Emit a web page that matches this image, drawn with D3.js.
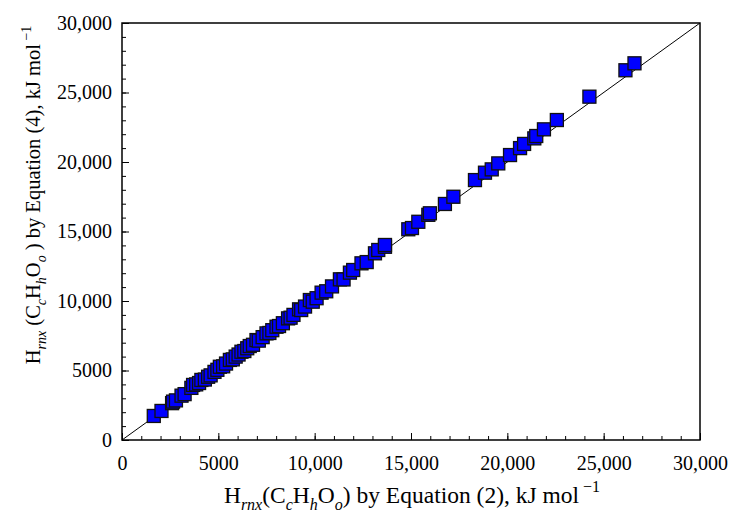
<!DOCTYPE html>
<html><head><meta charset="utf-8">
<script src="https://cdn.jsdelivr.net/npm/d3@7"></script>
<style>body{margin:0;background:#fff}svg{display:block}text{font-family:"Liberation Serif","Times New Roman",serif;fill:#000}</style>
</head><body><svg id="c" width="729" height="516"></svg>
<script>
// Values
const xEq2 = [1650,2050,2600,2650,2800,3090,3250,3600,3690,3850,4000,4120,4300,4470,4600,4800,4950,5080,5250,5400,5600,5750,5900,6050,6200,6350,6500,6630,6800,6980,7100,7300,7500,7650,7800,8020,8150,8350,8620,8750,8900,9190,9300,9500,9750,9900,10100,10360,10600,10900,11310,11500,11830,12000,12430,12700,13130,13300,13650,13650,
  14860,15050,15380,15900,15980,16760,17200,18320,18840,19190,19530,20140,20660,20870,21400,21500,21900,22570,24260,26130,26600];
const yEq4 = [1730,2090,2650,2760,2850,3190,3300,3750,3960,4000,4100,4320,4350,4550,4650,4900,5050,5270,5300,5500,5760,5800,6000,6150,6350,6400,6600,6760,6850,7190,7150,7400,7670,7700,7900,8150,8200,8400,8750,8800,9000,9400,9350,9600,10070,9950,10200,10600,10700,11050,11560,11550,12040,12230,12710,12800,13430,13670,13900,14030,
  15160,15250,15700,16200,16310,16980,17500,18700,19230,19470,19900,20500,21000,21300,21700,21870,22350,23020,24700,26600,27100];
const majorTicks = [0,5000,10000,15000,20000,25000,30000];
const minorTicks = d3.range(0,30001,1000);
const axisDomain = [0,30000];

const svg = d3.select("#c");
const L=122, R=700, T=23, B=440;
const x = d3.scaleLinear().domain(axisDomain).range([L,R]);
const y = d3.scaleLinear().domain(axisDomain).range([B,T]);
const fmt = d => d>=10000 ? d3.format(",")(d) : String(d);

// minor ticks (inside)
svg.append("g").attr("transform",`translate(0,${B})`)
  .call(d3.axisBottom(x).tickValues(minorTicks).tickSize(-4).tickFormat(""))
  .call(g=>g.select(".domain").remove()).selectAll("line").attr("stroke","#000");
svg.append("g").attr("transform",`translate(${L},0)`)
  .call(d3.axisLeft(y).tickValues(minorTicks).tickSize(-4).tickFormat(""))
  .call(g=>g.select(".domain").remove()).selectAll("line").attr("stroke","#000");
// major ticks
const gx = svg.append("g").attr("transform",`translate(0,${B})`)
  .call(d3.axisBottom(x).tickValues(majorTicks).tickSize(-7).tickPadding(16).tickFormat(fmt));
gx.select(".domain").remove();
gx.selectAll("line").attr("stroke","#000");
gx.selectAll("text").attr("font-size",20).attr("font-family","Liberation Serif").attr("fill","#000");
const gy = svg.append("g").attr("transform",`translate(${L},0)`)
  .call(d3.axisLeft(y).tickValues(majorTicks).tickSize(-7).tickPadding(10).tickFormat(fmt));
gy.select(".domain").remove();
gy.selectAll("line").attr("stroke","#000");
gy.selectAll("text").attr("font-size",20).attr("font-family","Liberation Serif").attr("fill","#000");

// diagonal
svg.append("line").attr("x1",x(0)).attr("y1",y(0)).attr("x2",x(30000)).attr("y2",y(30000))
  .attr("stroke","#000").attr("stroke-width",1);

// points
const pts = xEq2.map((v,i)=>({x:v,y:yEq4[i]}));
const s=13;
svg.append("g").selectAll("rect").data(pts).join("rect")
  .attr("x",d=>x(d.x)-s/2).attr("y",d=>y(d.y)-s/2).attr("width",s).attr("height",s)
  .attr("fill","#0000ff").attr("stroke","#111").attr("stroke-width",1.3);

// frame
svg.append("rect").attr("x",L).attr("y",T).attr("width",R-L).attr("height",B-T)
  .attr("fill","none").attr("stroke","#000").attr("stroke-width",1.5);

// axis titles
function addParts(t, parts, fs){
  const sfs = Math.round(fs*0.7), dn = fs*0.3, up = fs*0.45;
  parts.forEach(([txt,k,dy])=>{const ts=t.append("tspan").text(txt);
    if(k==="sub")ts.attr("font-size",sfs).attr("font-style","italic").attr("dy",dn);
    else if(k==="sup")ts.attr("font-size",sfs).attr("dy",-up);
    else if(dy)ts.attr("dy",dy==="u"?-dn:dy);});
}
const xfs=23.5;
const xt = svg.append("text").attr("x",412).attr("y",503).attr("text-anchor","middle").attr("font-size",xfs);
addParts(xt,[["H"],["rnx","sub"],["(C",0,"u"],["c","sub"],["H",0,"u"],["h","sub"],["O",0,"u"],["o","sub"],[") by Equation (2), kJ mol",0,"u"],[" \u22121","sup"]],xfs);
const yfs=20.5;
const yt = svg.append("text").attr("transform","translate(40,195) rotate(-90)").attr("text-anchor","middle").attr("font-size",yfs);
addParts(yt,[["H"],["rnx","sub"],[" (C",0,"u"],["c","sub"],["H",0,"u"],["h","sub"],["O",0,"u"],["o","sub"],[" ) by Equation (4), kJ mol",0,"u"],[" \u22121","sup"]],yfs);
</script></body></html>
